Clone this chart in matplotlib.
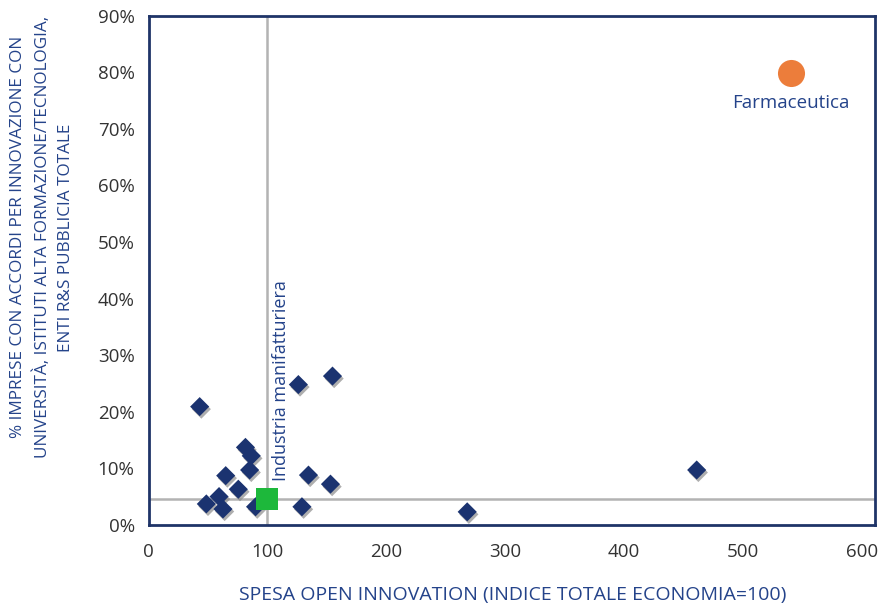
import matplotlib
matplotlib.use("Agg")
import matplotlib.pyplot as plt
import matplotlib.patheffects as pe
from matplotlib.ticker import FuncFormatter

plt.rcParams['font.family'] = ['Open Sans', 'DejaVu Sans']

# settori (indice spesa open innovation, % imprese con accordi)
spesa = [43, 81.5, 86.4, 85, 64.9, 75.5, 59.3, 48.6, 62.6, 90,
         126, 154.7, 134.5, 153, 129, 268, 461]
accordi = [20.9, 13.7, 12.2, 9.7, 8.7, 6.3, 5.0, 3.7, 2.8, 3.2,
           24.8, 26.3, 8.8, 7.2, 3.2, 2.3, 9.7]

manif_x = [100]
manif_y = [4.6]
farma_x = [540]
farma_y = [79.9]

navy = '#1b3370'
txt_blue = '#24438a'

fig = plt.figure(figsize=(8.79, 6.04), dpi=100)
ax = fig.add_axes([0.169, 0.131, 0.8265, 0.843])

ax.axvline(manif_x[0], color='#b3b3b3', lw=1.8, zorder=1)
ax.axhline(manif_y[0], color='#b3b3b3', lw=1.8, zorder=1)

shadow = [pe.SimplePatchShadow(offset=(1.2, -1.8), shadow_rgbFace='#8c8c8c', alpha=0.7), pe.Normal()]
sc = ax.scatter(spesa, accordi, marker='D', s=95, color=navy, lw=0, zorder=3)
sc.set_path_effects(shadow)
ax.scatter(manif_x, manif_y, marker='s', s=230, color='#1db83b', lw=0, zorder=4)
ax.scatter(farma_x, farma_y, marker='o', s=380, color='#ec7d3b', lw=0, zorder=4)

ax.text(111.5, 7.8, 'Industria manifatturiera', rotation=90, ha='center', va='bottom',
        color=txt_blue, fontsize=13)
ax.text(540, 74.6, 'Farmaceutica', ha='center', va='center', color=txt_blue, fontsize=13.5)

ax.set_xlim(0, 611)
ax.set_ylim(0, 90)
ax.set_xticks([0, 100, 200, 300, 400, 500, 600])
ax.set_yticks(range(0, 91, 10))
ax.yaxis.set_major_formatter(FuncFormatter(lambda v, p: '%d%%' % v))
ax.tick_params(length=0, labelsize=13.5, labelcolor='#333333', pad=10)
ax.tick_params(axis='x', pad=13)
for s in ax.spines.values():
    s.set_color('#1f3468')
    s.set_linewidth(2)

# titoli assi
fig.text(0.583, 0.006, 'SPESA OPEN INNOVATION (INDICE TOTALE ECONOMIA=100)', color=txt_blue,
         fontsize=14, ha='center', va='baseline')
fig.text(0.0475, 0.607, '% IMPRESE CON ACCORDI PER INNOVAZIONE CON\nUNIVERSITÀ, ISTITUTI ALTA FORMAZIONE/TECNOLOGIA,\nENTI R&S PUBBLICIA TOTALE',
         color=txt_blue, fontsize=12.3, linespacing=1.55, rotation=90,
         ha='center', va='center', multialignment='center')

plt.savefig('out.png', dpi=100)
